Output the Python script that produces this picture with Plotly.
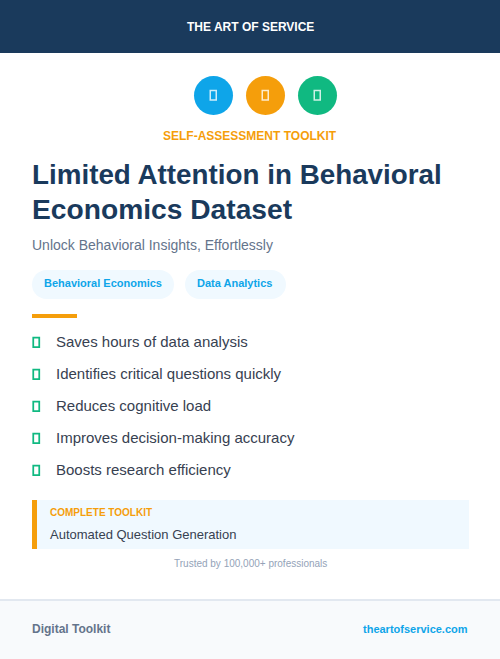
import plotly.graph_objects as go

# colours
NAVY = "#1a3a5c"
BLUE = "#0ea5e9"
ORANGE = "#f59e0b"
GREEN = "#10b981"
PALE = "#f0f9ff"
SLATE = "#64748b"
DARK = "#374151"
FONT = "Liberation Sans"

# content
header_text = "THE ART OF SERVICE"
kicker = "SELF-ASSESSMENT TOOLKIT"
title_lines = ["Limited Attention in Behavioral", "Economics Dataset"]
title_sizes = [27.8, 28.2]
subtitle = "Unlock Behavioral Insights, Effortlessly"
tags = ["Behavioral Economics", "Data Analytics"]
bullets = [
    "Saves hours of data analysis",
    "Identifies critical questions quickly",
    "Reduces cognitive load",
    "Improves decision-making accuracy",
    "Boosts research efficiency",
]
box_label = "COMPLETE TOOLKIT"
box_text = "Automated Question Generation"
trusted = "Trusted by 100,000+ professionals"
footer_left = "Digital Toolkit"
footer_right = "theartofservice.com"

icon_colors = [BLUE, ORANGE, GREEN]
icon_x = [213.5, 265.5, 317.5]
tag_spans = [(32, 174), (185, 286)]
bullet_y = [342, 374, 406, 438, 470]

fig = go.Figure()


def rect(x0, y0, x1, y1, fill, line=None, width=0, opacity=1):
    fig.add_shape(type="rect", x0=x0, y0=y0, x1=x1, y1=y1, fillcolor=fill, opacity=opacity,
                  line=dict(color=line, width=width) if line else dict(width=0))


def pill(x0, y0, x1, y1, fill):
    r = (y1 - y0) / 2
    k = r * 0.45
    path = (f"M {x0+r} {y0} L {x1-r} {y0} C {x1-k} {y0} {x1} {y0+k} {x1} {y0+r} "
            f"C {x1} {y1-k} {x1-k} {y1} {x1-r} {y1} L {x0+r} {y1} "
            f"C {x0+k} {y1} {x0} {y1-k} {x0} {y0+r} C {x0} {y0+k} {x0+k} {y0} {x0+r} {y0} Z")
    fig.add_shape(type="path", path=path, fillcolor=fill, line=dict(width=0))


def label(x, y, text, size, color, weight=400, anchor="left"):
    fig.add_annotation(x=x, y=y, text=text, showarrow=False, xanchor=anchor, yanchor="middle",
                       font=dict(family=FONT, size=size, color=color, weight=weight),
                       borderpad=0, borderwidth=0)


# header, footer
rect(0, 0, 500, 53, NAVY)
rect(0, 601, 500, 659, "#f8fafc")
rect(0, 599, 500, 601, "#e2e8f0")
label(250.5, 26.5, header_text, 12, "white", 700, "center")

# icons
for cx, col in zip(icon_x, icon_colors):
    fig.add_shape(type="circle", x0=cx - 19.5, y0=76, x1=cx + 19.5, y1=115, fillcolor=col, line=dict(width=0))
    rect(cx - 3.25, 90.5, cx + 2.75, 100, "rgba(0,0,0,0)", "rgba(255,255,255,0.8)", 1.5)
label(249.5, 135.5, kicker, 12, ORANGE, 700, "center")

# title block
label(32, 174, title_lines[0], title_sizes[0], NAVY, 700)
label(32, 209, title_lines[1], title_sizes[1], NAVY, 700)
label(32, 245, subtitle, 14, SLATE)

# tags
for (x0, x1), t in zip(tag_spans, tags):
    pill(x0, 270, x1, 299, PALE)
    label(x0 + 12, 283, t, 11, BLUE, 700)
rect(32, 314, 77, 318, ORANGE)

# bullets
for y, t in zip(bullet_y, bullets):
    rect(33.25, y - 4.5, 39.25, y + 5, "rgba(0,0,0,0)", GREEN, 1.75)
    label(56, y - 0.5, t, 15, DARK)

# toolkit box
rect(32, 500, 469, 549, PALE)
rect(32, 500, 37, 549, ORANGE)
label(50, 512.5, box_label, 10, ORANGE, 700)
label(50, 534.5, box_text, 13, DARK)
label(250, 563, trusted, 10, "#94a3b8", 400, "center")

# footer text
label(32, 629, footer_left, 12, SLATE, 700)
label(468, 628.5, footer_right, 11, BLUE, 700, "right")

fig.update_xaxes(range=[0, 500], visible=False, fixedrange=True)
fig.update_yaxes(range=[659, 0], visible=False, fixedrange=True)
fig.update_layout(width=500, height=659, margin=dict(l=0, r=0, t=0, b=0),
                  paper_bgcolor="white", plot_bgcolor="white", showlegend=False)

fig.write_html("out.html", config={"displayModeBar": False},
               post_script="document.body.style.margin='0';document.body.style.overflow='hidden';")
